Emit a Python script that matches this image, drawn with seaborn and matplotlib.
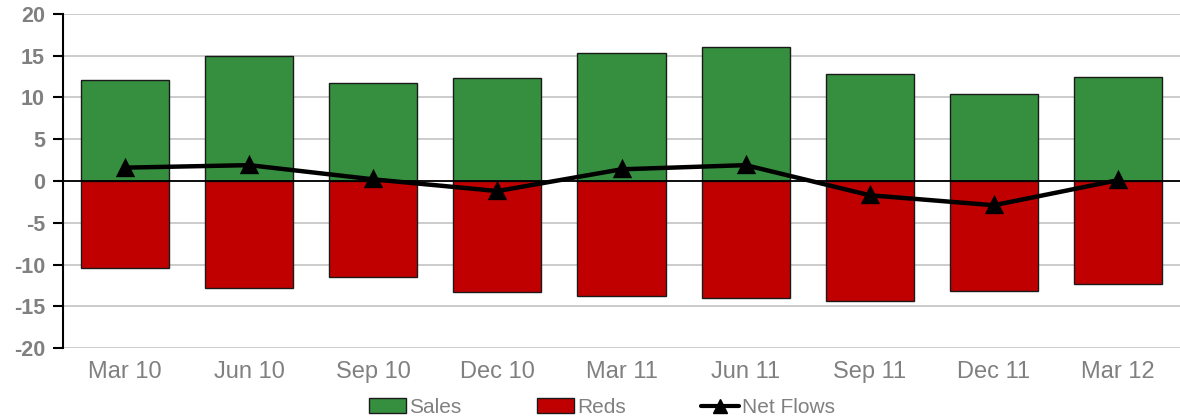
import pandas as pd
import matplotlib
matplotlib.use("Agg")
import matplotlib.pyplot as plt
from matplotlib.patches import Patch
from matplotlib.lines import Line2D
import seaborn as sns

quarters = ["Mar 10", "Jun 10", "Sep 10", "Dec 10", "Mar 11", "Jun 11", "Sep 11", "Dec 11", "Mar 12"]
sales = [12.1, 15.0, 11.7, 12.3, 15.3, 16.0, 12.8, 10.4, 12.5]
reds = [-10.4, -12.8, -11.5, -13.3, -13.8, -14.0, -14.4, -13.2, -12.3]
net_flows = [1.6, 1.9, 0.2, -1.2, 1.4, 1.9, -1.7, -2.9, 0.1]

green = "#368f3f"
red = "#c00000"
grey = "#808080"

df = pd.DataFrame({"Quarter": quarters, "Sales": sales, "Reds": reds, "Net Flows": net_flows})

sns.set_style("white")
plt.rcParams["font.family"] = ["Liberation Sans", "DejaVu Sans"]
plt.rcParams["axes.unicode_minus"] = False

fig = plt.figure(figsize=(11.8, 4.2), dpi=100)
ax = fig.add_axes([0.0534, 0.171, 0.9466, 0.796])

sns.barplot(data=df, x="Quarter", y="Sales", color=green, width=0.71,
            edgecolor="#1a1a1a", linewidth=1, saturation=1, ax=ax, zorder=2)
sns.barplot(data=df, x="Quarter", y="Reds", color=red, width=0.71,
            edgecolor="#1a1a1a", linewidth=1, saturation=1, ax=ax, zorder=2)
ax.axhline(0, color="black", linewidth=1.3, zorder=3)
sns.pointplot(data=df, x="Quarter", y="Net Flows", color="black", marker="^",
              markersize=10, linewidth=3.2, ax=ax, zorder=4)

ax.set_xlim(-0.5, 8.5)
ax.set_ylim(-20, 20)
ax.set_yticks(range(-20, 21, 5))
ax.yaxis.grid(True, color="#c4c4c4", linewidth=1.2, zorder=0)
ax.set_axisbelow(True)
ax.set_xlabel("")
ax.set_ylabel("")

for side in ["top", "right", "bottom"]:
    ax.spines[side].set_visible(False)
ax.spines["left"].set_color("black")
ax.spines["left"].set_linewidth(1.5)

ax.tick_params(axis="y", left=True, length=7, width=1.5, color="black",
               labelsize=15.5, labelcolor=grey, pad=6)
ax.tick_params(axis="x", bottom=False, labelsize=17, labelcolor=grey, pad=6)
for lbl in ax.get_yticklabels():
    lbl.set_fontweight("bold")

handles = [
    Patch(facecolor=green, edgecolor="#1a1a1a", label="Sales"),
    Patch(facecolor=red, edgecolor="#1a1a1a", label="Reds"),
    Line2D([0], [0], color="black", linewidth=3, marker="^", markersize=10, label="Net Flows"),
]
leg = fig.legend(handles=handles, loc="center", bbox_to_anchor=(0.51, 0.03), ncol=3,
                 frameon=False, fontsize=15, handlelength=1.8, handletextpad=0.15,
                 columnspacing=3.6)
for t in leg.get_texts():
    t.set_color(grey)

fig.savefig("out.png", dpi=100)
